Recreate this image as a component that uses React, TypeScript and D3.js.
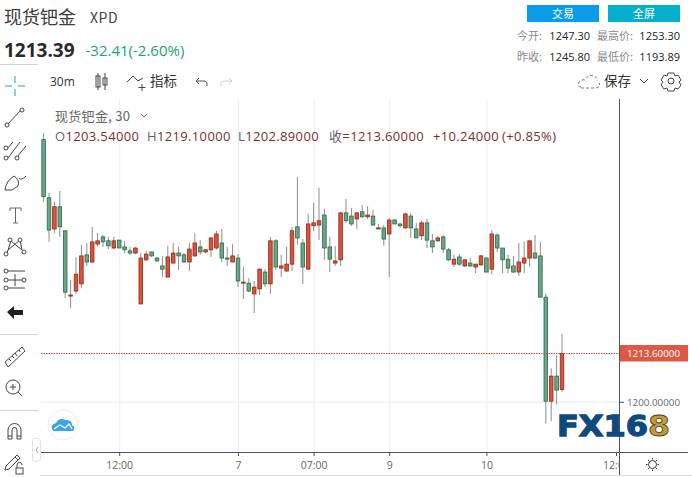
import React from "react";
import * as d3 from "d3";

const opens = [1273.2,1257.0,1248.3,1254.5,1247.8,1229.6,1231.0,1233.0,1241.1,1239.1,1244.1,1246.1,1245.0,1243.0,1245.2,1243.3,1242.2,1241.6,1227.4,1239.7,1241.9,1240.2,1238.0,1234.9,1238.8,1241.6,1241.1,1239.1,1240.8,1243.3,1241.9,1242.5,1243.0,1244.4,1240.2,1239.1,1240.2,1233.2,1233.2,1230.2,1231.6,1236.3,1233.0,1245.0,1237.4,1236.6,1238.5,1248.9,1244.4,1237.1,1249.2,1249.4,1252.2,1243.3,1238.8,1239.7,1252.8,1251.9,1251.1,1253.1,1251.7,1251.9,1248.3,1248.6,1246.9,1250.8,1249.7,1248.6,1251.9,1248.3,1246.4,1250.0,1245.0,1245.0,1246.1,1242.5,1238.5,1240.5,1238.0,1238.8,1237.7,1238.3,1240.2,1237.1,1246.6,1243.0,1239.9,1238.0,1236.3,1238.8,1240.2,1241.6,1240.8,1229.3,1200.3,1207.3,1203.54];
const closes = [1257.3,1248.0,1254.5,1248.9,1230.7,1229.9,1235.7,1240.8,1239.1,1244.7,1245.0,1244.7,1243.6,1245.0,1243.0,1242.5,1241.6,1243.0,1240.2,1241.3,1240.8,1239.4,1237.1,1240.5,1241.6,1240.8,1239.1,1242.7,1244.4,1241.9,1242.5,1245.8,1246.9,1240.2,1239.9,1240.8,1233.8,1233.5,1231.0,1232.1,1237.1,1233.0,1245.0,1237.7,1238.0,1238.5,1247.8,1245.8,1237.7,1249.7,1250.0,1250.6,1243.0,1239.9,1239.4,1252.8,1250.6,1249.7,1252.8,1251.7,1252.2,1249.4,1248.6,1245.5,1250.8,1249.7,1249.2,1252.5,1248.6,1245.8,1250.0,1245.2,1243.3,1245.8,1242.7,1239.7,1239.9,1238.5,1239.7,1238.0,1238.5,1240.8,1236.3,1246.9,1243.0,1239.7,1237.4,1236.3,1239.1,1240.2,1245.0,1240.2,1229.3,1200.3,1207.3,1203.4,1213.6];
const highs = [1274.9,1258.4,1255.9,1258.9,1247.8,1234.1,1240.5,1243.9,1244.4,1248.9,1247.2,1246.6,1246.1,1246.1,1245.2,1245.0,1243.3,1243.3,1241.6,1242.2,1241.9,1240.5,1240.8,1243.6,1244.4,1243.3,1241.6,1244.4,1247.2,1245.2,1242.7,1246.1,1247.8,1248.3,1243.3,1244.1,1241.3,1237.7,1234.6,1233.8,1237.4,1237.1,1246.1,1245.5,1241.1,1243.3,1248.9,1262.8,1245.5,1252.5,1255.6,1259.8,1253.9,1246.1,1243.6,1252.8,1256.7,1254.2,1252.8,1255.0,1254.7,1253.6,1249.7,1249.4,1251.4,1251.1,1250.0,1252.8,1252.8,1250.0,1250.6,1251.1,1246.9,1246.4,1246.6,1243.0,1241.1,1241.3,1239.9,1240.2,1238.5,1241.1,1240.5,1248.0,1247.2,1243.0,1241.1,1240.8,1244.4,1244.7,1245.0,1246.6,1244.7,1230.4,1209.5,1213.1,1219.1];
const lows = [1255.9,1244.7,1247.2,1246.1,1229.0,1226.3,1230.2,1231.8,1238.0,1238.8,1243.3,1243.3,1242.7,1242.7,1243.0,1241.6,1241.1,1241.3,1227.4,1239.4,1240.5,1239.1,1234.9,1234.9,1238.8,1236.9,1238.8,1236.6,1240.5,1241.1,1241.6,1240.5,1242.5,1239.1,1238.0,1239.1,1232.1,1228.8,1230.7,1224.9,1229.9,1232.1,1230.2,1236.9,1234.9,1236.3,1236.6,1243.9,1233.0,1237.1,1247.8,1245.2,1239.7,1236.3,1238.0,1238.0,1250.0,1249.2,1248.3,1251.4,1251.1,1249.2,1248.3,1243.6,1234.9,1249.7,1248.6,1248.3,1245.8,1245.8,1245.2,1243.0,1241.6,1244.7,1241.6,1239.4,1237.7,1238.0,1237.7,1237.7,1236.0,1238.0,1236.3,1235.7,1241.9,1236.0,1236.0,1236.0,1235.2,1236.0,1237.7,1239.9,1229.3,1194.1,1194.7,1199.4,1202.89];

const xTickIndex = [14, 36, 50, 64, 82, 106];
const xTickLabels = ["12:00", "7", "07:00", "9", "10", "12:00"];
const lastPrice = 1213.6;
const gridPrice = 1200;

const CJK = "'Noto Sans CJK SC','Noto Sans',sans-serif";
const UP = "#d9533c", UPB = "#8f2c1c", DN = "#6ba585", DNB = "#2c6a4b", WICK = "#8d8d8d";

const x = d3.scaleLinear().domain([0, 96]).range([43.6, 562]);
const y = d3.scaleLinear().domain([1200, 1213.6]).range([402.3, 353.5]);

const ic = { fill: "none", stroke: "#444", strokeWidth: 1 } as const;

const Circ = ({ cx, cy, r = 2 }: any) => <circle cx={cx} cy={cy} r={r} fill="#fff" stroke="#444" strokeWidth={1} />;

function Toolbar() {
  return (
    <g>
      <g stroke="#8fcdf5" strokeWidth={2}>
        <path d="M15 76V83M15 89V96M5 86H12M18 86H25" />
      </g>
      <g {...ic}>
        <path d="M7 125L21 110" /><Circ cx={7} cy={125} /><Circ cx={22} cy={110} />
        <path d="M7 149L13 142M8 158L20 142M17 157L26 146" />
        <Circ cx={6} cy={148} /><Circ cx={6} cy={158} /><Circ cx={17} cy={158} />
        <path d="M5 190Q6 181 14 176Q20 180 18 186L12 190ZM19 178Q21 181 26 176" />
        <path d="M10 208H21M15.500 208V223M13 223H18M10 208V211M21 208V211" stroke="#666" />
        <path d="M7 253L11 241L22 250L20 240L8 250" />
        <Circ cx={10} cy={240} /><Circ cx={20} cy={240} /><Circ cx={24} cy={252} /><Circ cx={6} cy={254} />
        <path d="M8 271H25M8 280H25M8 288H25M15 274V286" />
        <Circ cx={6} cy={271} /><Circ cx={6} cy={280} /><Circ cx={24} cy={280} /><Circ cx={6} cy={288} />
        <path d="M5 362L22 347L25 351L8 367ZM9 359L11 361M12 356L14 358M15 353L17 356M19 350L20 352" />
        <circle cx={13} cy={387} r={7} /><path d="M18 392L22 396M13 384V390M10 387H16" />
        <path d="M8 439V430A6 6 0 0 1 21 430V439H17V430A2.500 2.500 0 0 0 12 430V439ZM8 436H12M17 436H21" />
        <path d="M6 466L17 455L20 458L9 469L5 470ZM15 457L18 460" />
        <rect x={16} y={468} width={7} height={6} /><path d="M17 468V465A2.500 2.500 0 0 1 22 465" />
      </g>
      <path d="M7 312L14 306V310H23V315H14V319Z" fill="#1f1f1f" />
      <g fill="none" stroke="#d4d4d8">
        <path d="M0 64.500H38M0 334.500H38M0 410.500H38" />
        <rect x={32.500} y={438.500} width={8} height={23} rx={3} fill="#fff" stroke="#e3e3e6" />
      </g>
      <path d="M38 447L36 450L38 453" fill="none" stroke="#9aa" />
      <circle cx={63} cy={425} r={15} fill="#fff" stroke="#eee" strokeWidth={1} />
      <path d="M53 431Q49 425 56 423Q59 417 66 420Q72 420 72 425Q76 427 73 431Z" fill="#3ba5ee" />
      <path d="M54 429L60 425L65 428L69 424L72 429" fill="none" stroke="#fff" strokeWidth={1.300} />
    </g>
  );
}

function TopBar() {
  return (
    <g fontFamily={CJK}>
      <text x={4} y={24} fontSize={18} fill="#3c3c3c">现货钯金</text>
      <text x={90} y={23} fontSize={14} fill="#444" letterSpacing={0.6}>XPD</text>
      <text x={4} y={57} fontSize={19} fontWeight={700} fill="#2a2a2a" fontFamily="'Open Sans',sans-serif">1213.39</text>
      <text x={85.5} y={56} fontSize={15} fill="#1ba56e" fontFamily="'Open Sans',sans-serif">-32.41(-2.60%)</text>

      <rect x={527} y={5} width={72} height={17} fill="#0a9ce9" />
      <rect x={608} y={5} width={72} height={17} fill="#06b0cc" />
      <text x={563} y={18} fontSize={11} fill="#fff" textAnchor="middle">交易</text>
      <text x={644} y={18} fontSize={11} fill="#fff" textAnchor="middle">全屏</text>

      <g fontSize={11} fill="#8a8a8a">
        <text x={517} y={40}>今开:</text>
        <text x={597} y={40}>最高价:</text>
        <text x={517} y={61}>昨收:</text>
        <text x={597} y={61}>最低价:</text>
      </g>
      <g fontSize={11} fill="#222" textAnchor="end" fontFamily="'Open Sans',sans-serif">
        <text x={590} y={40}>1247.30</text>
        <text x={680} y={40}>1253.30</text>
        <text x={590} y={61}>1245.80</text>
        <text x={680} y={61}>1193.89</text>
      </g>

      <text x={50} y={86} fontSize={12} fill="#333" fontFamily="'Open Sans',sans-serif">30m</text>
      <g {...ic}>
        <rect x={96} y={76} width={4} height={11} /><path d="M98 73V90M105 73V90" />
        <rect x={103} y={78} width={4} height={7} />
        <path d="M127 82L133 76L138 81L143 78M142 84V91M138.500 87.500H145.500" />
        <path d="M196 81H205Q208 82 207 86M196 81L199 78M196 81L199 84" stroke="#555" />
        <path d="M232 81H223Q220 82 221 86M232 81L229 78M232 81L229 84" stroke="#ccc" />
        <path d="M581 87Q577 87 579 82Q581 79 585 80Q588 74 594 76Q598 78 597 81" strokeDasharray="3 2" stroke="#777" />
        <path d="M581 88H596Q601 87 599 83" strokeDasharray="3 2" stroke="#777" />
        <path d="M640 79L644 83L648 79" />
        <circle cx={671} cy={81} r={3} />
        <path d="M668 73H674L675 76L678 75L681 80L679 82L681 85L678 89L675 88L674 91H668L667 88L664 89L661 85L663 82L661 80L664 75L667 76Z" />
      </g>
      <text x={150} y={86} fontSize={13.500} fill="#333">指标</text>
      <text x={604} y={86} fontSize={13.500} fill="#333">保存</text>

      <text x={55} y={121} fontSize={13} fill="#666" letterSpacing={0.3}>现货钯金, 30</text>
      <path d="M141 114L144 117L147 114" fill="none" stroke="#666" />
      <g fontSize={13} fontFamily="'Open Sans',sans-serif" letterSpacing={0.35}>
        <text x={55} y={141} fill="#5f6270">O<tspan fill="#78302a">1203.54000</tspan></text>
        <text x={147} y={141} fill="#5f6270">H<tspan fill="#78302a">1219.10000</tspan></text>
        <text x={238} y={141} fill="#5f6270">L<tspan fill="#78302a">1202.89000</tspan></text>
        <text x={329} y={141} fill="#5f6270" fontFamily={CJK}>收<tspan fill="#78302a" fontFamily="'Open Sans',sans-serif">=1213.60000</tspan></text>
        <text x={433} y={141} fill="#78302a">+10.24000</text>
        <text x={502} y={141} fill="#78302a">(+0.85%)</text>
      </g>
    </g>
  );
}

function Chart() {
  return (
    <g>
      {xTickIndex.slice(0, 5).map((t) => (
        <line key={t} x1={x(t) + 0.5} x2={x(t) + 0.5} y1={99} y2={452} stroke="#e8f0f5" strokeWidth={1} />
      ))}
      <line x1={41} x2={619} y1={y(gridPrice)} y2={y(gridPrice)} stroke="#eef2f6" strokeWidth={1.500} />

      {opens.map((o, i) => {
        const c = closes[i];
        const up = c >= o;
        const top = y(Math.max(o, c));
        const bot = y(Math.min(o, c));
        return (
          <g key={i}>
            <line x1={x(i)} x2={x(i)} y1={y(highs[i])} y2={y(lows[i])} stroke={WICK} strokeWidth={1} />
            <rect x={x(i) - 1.8} y={top} width={3.600} height={Math.max(bot - top, 1)}
              fill={up ? UP : DN} stroke={up ? UPB : DNB} strokeWidth={0.8} />
          </g>
        );
      })}

      <line x1={41} x2={619} y1={y(lastPrice)} y2={y(lastPrice)} stroke="#c9503c" strokeWidth={1} strokeDasharray="1.500 1" />

      <line x1={619.5} x2={619.5} y1={99} y2={475} stroke="#50535e" strokeWidth={1} />
      <line x1={41} x2={688} y1={452.5} y2={452.5} stroke="#50535e" strokeWidth={1} />
      <line x1={41} x2={692} y1={475.5} y2={475.5} stroke="#dcdce0" strokeWidth={1} />

      {xTickIndex.map((t) => (
        <line key={t} x1={x(t) + 0.5} x2={x(t) + 0.5} y1={452} y2={456} stroke="#50535e" />
      ))}
      <defs>
        <clipPath id="axisClip"><rect x={41} y={453} width={578} height={22} /></clipPath>
      </defs>
      <g clipPath="url(#axisClip)" fontFamily="'Open Sans',sans-serif" fontSize={10.500} fill="#666" textAnchor="middle">
        {xTickIndex.map((t, i) => (
          <text key={t} x={x(t) + 0.5} y={469}>{xTickLabels[i]}</text>
        ))}
      </g>

      <rect x={620} y={345} width={68} height={16.500} fill="#dc5a45" />
      <text x={627} y={357} fontSize={9.800} fill="#fff" fontFamily="'Open Sans',sans-serif">{lastPrice.toFixed(5)}</text>
      <line x1={620} x2={624} y1={y(gridPrice)} y2={y(gridPrice)} stroke="#50535e" />
      <text x={627} y={406} fontSize={9.800} fill="#666" fontFamily="'Open Sans',sans-serif">{gridPrice.toFixed(5)}</text>

      <g {...ic} stroke="#333">
        <circle cx={652.500} cy={464.500} r={4} />
        <path d="M652.500 458V459.500M652.500 469.500V471M646 464.500H647.500M657.500 464.500H659M648 460L649 461M656 468L657 469M648 469L649 468M656 461L657 460" />
      </g>

      <g fontFamily="'DejaVu Sans',sans-serif" fontWeight={700} fontSize={29}>
        <text x={557} y={436} textLength={91} lengthAdjust="spacingAndGlyphs" fill="#0e4a80" stroke="#0e4a80" strokeWidth={1.3}>FX16</text>
        <text x={648} y={436} textLength={22} lengthAdjust="spacingAndGlyphs" fill="#c49a35" stroke="#4a4028" strokeWidth={0.8}>8</text>
      </g>
    </g>
  );
}

export default function App() {
  return (
    <svg width={692} height={477} style={{ position: "fixed", left: 0, top: 0, background: "#fff" }}>
      <Chart />
      <Toolbar />
      <TopBar />
    </svg>
  );
}
